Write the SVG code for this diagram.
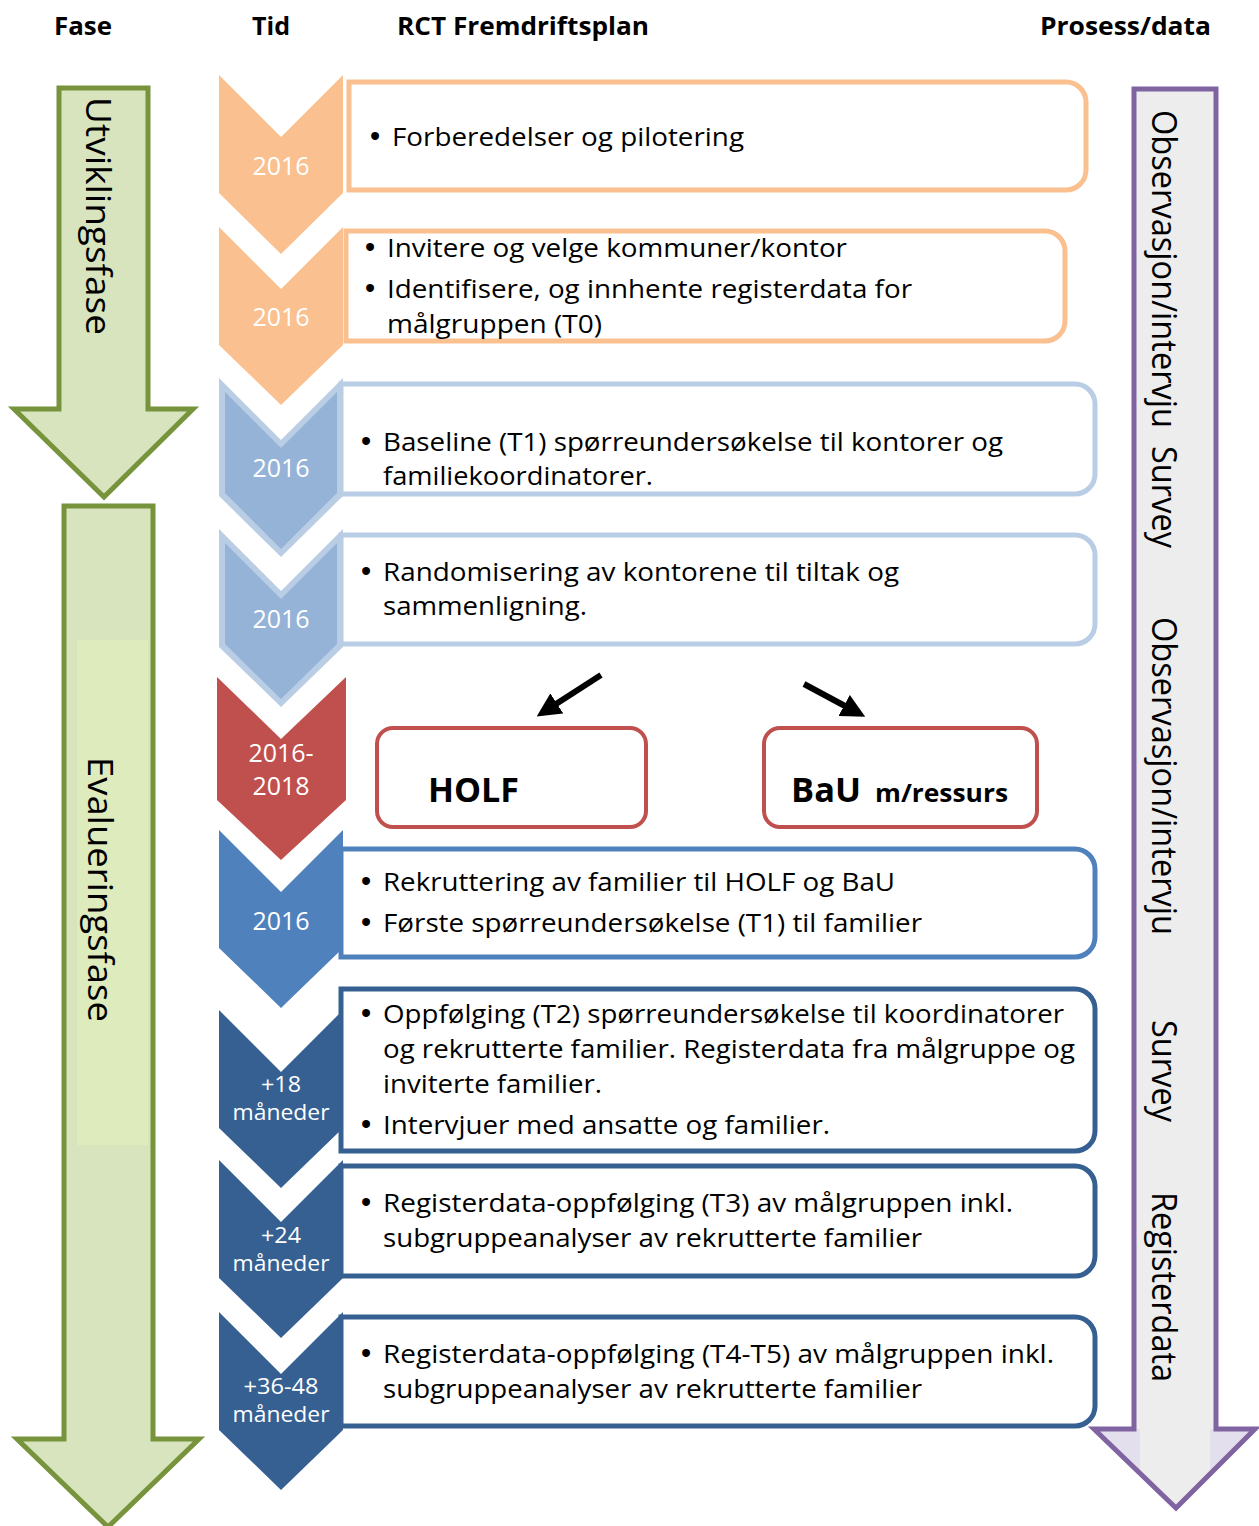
<svg xmlns="http://www.w3.org/2000/svg" width="1259" height="1526" viewBox="0 0 1259 1526">
<defs>
<style>
.hdr{font-family:"Open Sans","Noto Sans",sans-serif;font-weight:bold;font-size:25px;fill:#000}
.body{font-family:"Open Sans","Noto Sans",sans-serif;font-size:26px;fill:#000}
.b{font-family:"Liberation Sans",Arial,sans-serif;font-size:29px}
.lbl{font-family:"Open Sans","Noto Sans",sans-serif;font-size:25px;fill:#fff;text-anchor:middle}
.lbls{font-family:"Open Sans","Noto Sans",sans-serif;font-size:22px;fill:#fff;text-anchor:middle}
.vert{font-family:"Open Sans","Noto Sans",sans-serif;font-size:35px;fill:#000}
.orange{fill:#fff;stroke:#FAC090;stroke-width:5}
.lblue{fill:#fff;stroke:#B9CDE5;stroke-width:5}
.mblue{fill:#fff;stroke:#4F81BD;stroke-width:5}
.dblue{fill:#fff;stroke:#376092;stroke-width:5}
.redbox{fill:#fff;stroke:#C0504D;stroke-width:4}
.green{fill:#D7E4BD;stroke:#77933C;stroke-width:5}
</style>
<marker id="ah" markerUnits="userSpaceOnUse" markerWidth="24" markerHeight="24" viewBox="0 0 24 24" refX="1" refY="12" orient="auto">
<path d="M0,0 L24,12 L0,24 Z" fill="#000"/>
</marker>
</defs>
<rect width="1259" height="1526" fill="#fff"/>

<g id="headers">
<text class="hdr" x="54" y="35" textLength="58" lengthAdjust="spacingAndGlyphs">Fase</text>
<text class="hdr" x="252" y="35" textLength="38" lengthAdjust="spacingAndGlyphs">Tid</text>
<text class="hdr" x="397" y="35" textLength="252" lengthAdjust="spacingAndGlyphs">RCT Fremdriftsplan</text>
<text class="hdr" x="1040" y="35" textLength="171" lengthAdjust="spacingAndGlyphs">Prosess/data</text>
</g>

<g id="phase-utvikling">
<path class="green" d="M59,88 H148 V409 H193 L104,497 L14,409 H59 Z"/>
<text class="vert" transform="translate(86,97) rotate(90)" x="0" y="0" textLength="238" lengthAdjust="spacingAndGlyphs">Utviklingsfase</text>
</g>

<g id="phase-evaluering">
<path class="green" d="M64,506 H153 V1439 H199 L108,1527 L17,1439 H64 Z"/>
<rect x="77" y="640" width="71" height="505" fill="#DEEBBC"/>
<text class="vert" transform="translate(88,757) rotate(90)" x="0" y="0" textLength="265" lengthAdjust="spacingAndGlyphs">Evalueringsfase</text>
</g>

<g id="process-data">
<path d="M1134,89 H1216 V1429 H1255 L1176,1508 L1094,1429 H1134 Z" fill="#E4DFEC"/>
<rect x="1136" y="91" width="78" height="1338" fill="#EDEDED"/>
<polygon points="1140,1429 1210,1429 1210,1474 1176,1505 1140,1473" fill="#EDEDED"/>
<path d="M1134,89 H1216 V1429 H1255 L1176,1508 L1094,1429 H1134 Z" fill="none" stroke="#8064A2" stroke-width="5"/>
<text class="vert" transform="translate(1152,110) rotate(90)" x="0" y="0"><tspan x="0" textLength="318" lengthAdjust="spacingAndGlyphs">Observasjon/intervju</tspan><tspan x="336" textLength="102" lengthAdjust="spacingAndGlyphs">Survey</tspan></text>
<text class="vert" transform="translate(1152,617) rotate(90)" x="0" y="0" textLength="318" lengthAdjust="spacingAndGlyphs">Observasjon/intervju</text>
<text class="vert" transform="translate(1152,1020) rotate(90)" x="0" y="0" textLength="102" lengthAdjust="spacingAndGlyphs">Survey</text>
<text class="vert" transform="translate(1152,1192) rotate(90)" x="0" y="0" textLength="190" lengthAdjust="spacingAndGlyphs">Registerdata</text>
</g>

<g id="step1">
<path d="M219,75 L281,137 L343,75 L343,193 L281,254 L219,193 Z" fill="#FAC090"/>
<text class="lbl" x="281" y="175">2016</text>
<path class="orange" d="M349,82 H1066 A20,20 0 0 1 1086,102 V170 A20,20 0 0 1 1066,190 H349 Z"/>
<text class="body" x="370" y="146"><tspan class="b">•</tspan><tspan x="392" textLength="352" lengthAdjust="spacingAndGlyphs">Forberedelser og pilotering</tspan></text>
</g>

<g id="step2">
<path d="M219,227 L281,289 L343,227 L343,345 L281,405 L219,345 Z" fill="#FAC090"/>
<text class="lbl" x="281" y="326">2016</text>
<path class="orange" d="M346,231 H1045 A20,20 0 0 1 1065,251 V321 A20,20 0 0 1 1045,341 H346 Z"/>
<text class="body" x="365" y="257"><tspan class="b">•</tspan><tspan x="387" textLength="460" lengthAdjust="spacingAndGlyphs">Invitere og velge kommuner/kontor</tspan></text>
<text class="body" x="365" y="298"><tspan class="b">•</tspan><tspan x="387" textLength="525" lengthAdjust="spacingAndGlyphs">Identifisere, og innhente registerdata for</tspan></text>
<text class="body" x="387" y="333" textLength="215" lengthAdjust="spacingAndGlyphs">målgruppen (T0)</text>
</g>

<g id="step3">
<path d="M219,378 L281,440 L343,378 L343,496 L281,557 L219,496 Z" fill="#B9CDE5"/>
<path d="M225,392 L281,448 L337,392 L337,493 L281,549 L225,493 Z" fill="#95B3D7"/>
<text class="lbl" x="281" y="477">2016</text>
<path class="lblue" d="M341,384 H1075 A20,20 0 0 1 1095,404 V474 A20,20 0 0 1 1075,494 H341 Z"/>
<text class="body" x="361" y="451"><tspan class="b">•</tspan><tspan x="383" textLength="620" lengthAdjust="spacingAndGlyphs">Baseline (T1) spørreundersøkelse til kontorer og</tspan></text>
<text class="body" x="383" y="485" textLength="270" lengthAdjust="spacingAndGlyphs">familiekoordinatorer.</text>
</g>

<g id="step4">
<path d="M219,529 L281,591 L343,529 L343,647 L281,707 L219,647 Z" fill="#B9CDE5"/>
<path d="M225,543 L281,599 L337,543 L337,644 L281,699 L225,644 Z" fill="#95B3D7"/>
<text class="lbl" x="281" y="628">2016</text>
<path class="lblue" d="M341,535 H1075 A20,20 0 0 1 1095,555 V624 A20,20 0 0 1 1075,644 H341 Z"/>
<text class="body" x="361" y="581"><tspan class="b">•</tspan><tspan x="383" textLength="516" lengthAdjust="spacingAndGlyphs">Randomisering av kontorene til tiltak og</tspan></text>
<text class="body" x="383" y="615" textLength="204" lengthAdjust="spacingAndGlyphs">sammenligning.</text>
</g>

<g id="step5">
<path d="M217,677 L281,739 L346,677 L346,800 L281,860 L217,800 Z" fill="#C0504D"/>
<text class="lbl" x="281" y="762">2016-</text>
<text class="lbl" x="281" y="795">2018</text>
</g>

<g id="holf">
<rect class="redbox" x="377" y="728" width="269" height="99" rx="16"/>
<text x="428" y="802" font-family="Open Sans, Noto Sans, sans-serif" font-weight="bold" font-size="34" textLength="91" lengthAdjust="spacingAndGlyphs">HOLF</text>
</g>

<g id="bau">
<rect class="redbox" x="764" y="728" width="273" height="99" rx="16"/>
<text x="791" y="802" font-family="Open Sans, Noto Sans, sans-serif" font-weight="bold" font-size="34"><tspan textLength="70" lengthAdjust="spacingAndGlyphs">BaU</tspan><tspan x="875" font-size="25" textLength="133" lengthAdjust="spacingAndGlyphs">m/ressurs</tspan></text>
</g>

<g id="step6">
<path d="M219,830 L281,892 L343,830 L343,948 L281,1008 L219,948 Z" fill="#4F81BD"/>
<text class="lbl" x="281" y="930">2016</text>
<path class="mblue" d="M341,849 H1075 A20,20 0 0 1 1095,869 V937 A20,20 0 0 1 1075,957 H341 Z"/>
<text class="body" x="361" y="891"><tspan class="b">•</tspan><tspan x="383" textLength="512" lengthAdjust="spacingAndGlyphs">Rekruttering av familier til HOLF og BaU</tspan></text>
<text class="body" x="361" y="932"><tspan class="b">•</tspan><tspan x="383" textLength="539" lengthAdjust="spacingAndGlyphs">Første spørreundersøkelse (T1) til familier</tspan></text>
</g>

<g id="step7">
<path d="M219,1010 L281,1072 L343,1010 L343,1128 L281,1188 L219,1128 Z" fill="#376092"/>
<text class="lbls" x="281" y="1092" textLength="40" lengthAdjust="spacingAndGlyphs">+18</text>
<text class="lbls" x="281" y="1120" textLength="97" lengthAdjust="spacingAndGlyphs">måneder</text>
<path class="dblue" d="M341,989 H1075 A20,20 0 0 1 1095,1009 V1131 A20,20 0 0 1 1075,1151 H341 Z"/>
<text class="body" x="361" y="1023"><tspan class="b">•</tspan><tspan x="383" textLength="681" lengthAdjust="spacingAndGlyphs">Oppfølging (T2) spørreundersøkelse til koordinatorer</tspan></text>
<text class="body" x="383" y="1058" textLength="692" lengthAdjust="spacingAndGlyphs">og rekrutterte familier. Registerdata fra målgruppe og</text>
<text class="body" x="383" y="1093" textLength="219" lengthAdjust="spacingAndGlyphs">inviterte familier.</text>
<text class="body" x="361" y="1134"><tspan class="b">•</tspan><tspan x="383" textLength="447" lengthAdjust="spacingAndGlyphs">Intervjuer med ansatte og familier.</tspan></text>
</g>

<g id="step8">
<path d="M219,1160 L281,1222 L343,1160 L343,1278 L281,1338 L219,1278 Z" fill="#376092"/>
<text class="lbls" x="281" y="1243" textLength="40" lengthAdjust="spacingAndGlyphs">+24</text>
<text class="lbls" x="281" y="1271" textLength="97" lengthAdjust="spacingAndGlyphs">måneder</text>
<path class="dblue" d="M341,1166 H1075 A20,20 0 0 1 1095,1186 V1256 A20,20 0 0 1 1075,1276 H341 Z"/>
<text class="body" x="361" y="1212"><tspan class="b">•</tspan><tspan x="383" textLength="630" lengthAdjust="spacingAndGlyphs">Registerdata-oppfølging (T3) av målgruppen inkl.</tspan></text>
<text class="body" x="383" y="1247" textLength="539" lengthAdjust="spacingAndGlyphs">subgruppeanalyser av rekrutterte familier</text>
</g>

<g id="step9">
<path d="M219,1312 L281,1374 L343,1312 L343,1430 L281,1490 L219,1430 Z" fill="#376092"/>
<text class="lbls" x="281" y="1394" textLength="75" lengthAdjust="spacingAndGlyphs">+36-48</text>
<text class="lbls" x="281" y="1422" textLength="97" lengthAdjust="spacingAndGlyphs">måneder</text>
<path class="dblue" d="M341,1317 H1075 A20,20 0 0 1 1095,1337 V1406 A20,20 0 0 1 1075,1426 H341 Z"/>
<text class="body" x="361" y="1363"><tspan class="b">•</tspan><tspan x="383" textLength="671" lengthAdjust="spacingAndGlyphs">Registerdata-oppfølging (T4-T5) av målgruppen inkl.</tspan></text>
<text class="body" x="383" y="1398" textLength="539" lengthAdjust="spacingAndGlyphs">subgruppeanalyser av rekrutterte familier</text>
</g>

<g id="connectors">
<line x1="601" y1="675" x2="556" y2="704" stroke="#000" stroke-width="6" marker-end="url(#ah)"/>
<line x1="804" y1="684" x2="845" y2="706" stroke="#000" stroke-width="6" marker-end="url(#ah)"/>
</g>
</svg>
